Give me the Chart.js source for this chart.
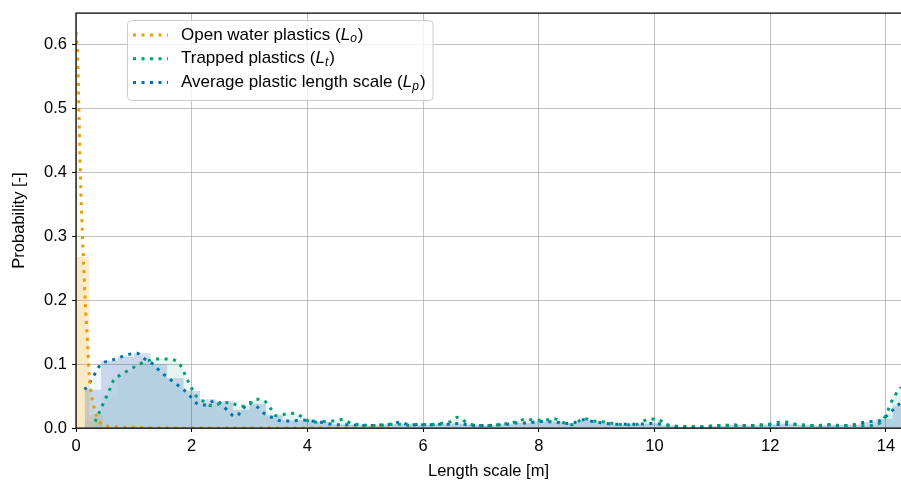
<!DOCTYPE html>
<html><head><meta charset="utf-8">
<script src="https://cdn.jsdelivr.net/npm/chart.js@4/dist/chart.umd.min.js"></script>
<style>html,body{margin:0;padding:0;background:#fff;overflow:hidden}</style>
</head><body>
<canvas id="c" width="901" height="481"></canvas>
<script>
// ---------- data ----------
const seriesNames = ['Open water plastics', 'Trapped plastics', 'Average plastic length scale'];
const seriesSubs = ['o', 't', 'p'];
const xTickValues = [0, 2, 4, 6, 8, 10, 12, 14];
const yTickValues = [0, 0.1, 0.2, 0.3, 0.4, 0.5, 0.6];
const xAxisTitle = 'Length scale [m]';
const yAxisTitle = 'Probability [-]';

// density curves (x, y)
const openX = [0, 0.03, 0.05, 0.07, 0.1, 0.14, 0.17, 0.2, 0.23, 0.27, 0.31, 0.36, 0.45, 0.64, 1.0, 2.0, 3.0, 4.0, 5.0, 5.5];
const openY = [0.62, 0.58, 0.5, 0.42, 0.33, 0.24, 0.18, 0.135, 0.08, 0.05, 0.033, 0.018, 0.006, 0.002, 0.001, 0, 0, 0, 0, 0];

const trappedX = [0.33,0.37,0.44,0.51,0.58,0.65,0.77,0.92,1.08,1.23,1.39,1.57,1.73,1.84,1.9,1.98,2.06,2.2,2.35,2.52,2.67,2.83,2.98,3.12,3.25,3.36,3.47,3.63,3.79,3.95,4.1,4.26,4.44,4.61,4.76,4.94,5.1,5.26,5.44,5.6,5.77,5.95,6.1,6.28,6.45,6.6,6.76,6.93,7.12,7.3,7.46,7.62,7.78,7.95,8.1,8.24,8.44,8.6,8.77,8.94,9.1,9.3,9.5,9.7,9.91,10.05,10.2,10.35,10.5,10.7,10.85,11.0,11.2,11.35,11.5,11.7,11.9,12.05,12.22,12.37,12.5,12.7,12.85,13.0,13.2,13.37,13.55,13.75,13.9,14.0,14.07,14.15,14.26];
const trappedY = [0.01,0.018,0.032,0.046,0.06,0.075,0.083,0.091,0.099,0.105,0.108,0.108,0.105,0.093,0.08,0.066,0.052,0.042,0.035,0.039,0.04,0.034,0.036,0.045,0.043,0.031,0.019,0.022,0.023,0.014,0.009,0.01,0.011,0.0135,0.007,0.005,0.004,0.004,0.006,0.006,0.004,0.006,0.005,0.007,0.009,0.017,0.008,0.004,0.004,0.005,0.007,0.01,0.014,0.012,0.012,0.015,0.008,0.005,0.015,0.011,0.01,0.007,0.005,0.006,0.014,0.014,0.005,0.003,0.002,0.002,0.002,0.003,0.004,0.004,0.004,0.004,0.005,0.007,0.01,0.007,0.005,0.004,0.004,0.005,0.004,0.004,0.004,0.004,0.008,0.02,0.036,0.05,0.064];

const averageX = [0.15,0.25,0.34,0.43,0.58,0.74,0.9,1.05,1.19,1.33,1.46,1.6,1.73,1.86,1.98,2.1,2.24,2.4,2.53,2.64,2.76,2.87,3.0,3.12,3.25,3.4,3.56,3.73,3.9,4.06,4.25,4.4,4.57,4.75,4.9,5.1,5.3,5.45,5.6,5.77,5.95,6.1,6.3,6.45,6.6,6.76,6.93,7.12,7.3,7.46,7.62,7.8,7.99,8.14,8.3,8.45,8.6,8.77,8.94,9.1,9.3,9.5,9.7,9.95,10.2,10.35,10.5,10.7,10.85,11.0,11.2,11.35,11.5,11.7,11.9,12.05,12.22,12.37,12.5,12.7,12.85,13.0,13.2,13.37,13.52,13.71,13.88,14.0,14.13,14.26];
const averageY = [0.06,0.073,0.087,0.1,0.105,0.11,0.115,0.117,0.108,0.1,0.088,0.078,0.069,0.06,0.049,0.038,0.036,0.043,0.036,0.025,0.018,0.028,0.04,0.034,0.023,0.016,0.011,0.011,0.0125,0.011,0.009,0.006,0.005,0.005,0.004,0.004,0.005,0.006,0.009,0.005,0.005,0.005,0.006,0.006,0.007,0.005,0.004,0.004,0.005,0.006,0.008,0.008,0.01,0.01,0.009,0.007,0.008,0.013,0.01,0.008,0.006,0.006,0.006,0.007,0.005,0.003,0.002,0.002,0.002,0.003,0.004,0.005,0.004,0.004,0.005,0.005,0.006,0.006,0.005,0.004,0.004,0.005,0.004,0.004,0.007,0.01,0.011,0.018,0.029,0.04];

// histograms (bin edges, bin heights)
const openEdges = [0, 0.23, 0.46];
const openHist = [0.268, 0.02];
const histEdges = [0.15,0.435,0.72,1.005,1.29,1.575,1.86,2.145,2.43,2.715,3.0,3.285,3.57,3.855,4.14,4.425,4.71,4.995,5.28,5.565,5.85,6.135,6.42,6.705,6.99,7.275,7.56,7.845,8.13,8.415,8.7,8.985,9.27,9.555,9.84,10.125,10.41,10.695,10.98,11.265,11.55,11.835,12.12,12.405,12.69,12.975,13.26,13.545,13.83,14.115,14.4];
const averageHist = [0.06,0.105,0.112,0.117,0.1,0.078,0.058,0.045,0.042,0.028,0.038,0.02,0.012,0.012,0.009,0.006,0.005,0.004,0.006,0.007,0.005,0.006,0.007,0.005,0.004,0.006,0.008,0.01,0.01,0.008,0.012,0.009,0.006,0.006,0.007,0.004,0.002,0.002,0.003,0.005,0.004,0.005,0.006,0.005,0.004,0.005,0.005,0.009,0.014,0.035];
const trappedHist = [0.01,0.05,0.088,0.1,0.108,0.105,0.062,0.04,0.04,0.036,0.044,0.024,0.022,0.012,0.01,0.012,0.006,0.004,0.005,0.005,0.005,0.007,0.014,0.006,0.004,0.006,0.011,0.012,0.014,0.006,0.013,0.01,0.006,0.006,0.014,0.004,0.002,0.002,0.003,0.004,0.004,0.006,0.009,0.005,0.004,0.005,0.004,0.004,0.02,0.055];

// ---------- helpers ----------
const pts = (xs, ys) => xs.map((x, i) => ({x, y: ys[i]}));
const histPts = (edges, h) => {
  const p = h.map((v, i) => ({x: edges[i], y: v}));
  p.push({x: edges[edges.length - 1], y: h[h.length - 1]});
  return p;
};
const ORANGE = '#E69F00', GREEN = '#009E73', BLUE = '#0072B2';
const FONT = '"Liberation Sans", Arial, sans-serif';
const FS = 16.5, LFS = 17;
const DASH = [3, 5.5];

const histDs = (data, color, order) => ({
  type: 'line', data, stepped: true, fill: 'origin', borderWidth: 0,
  borderColor: 'rgba(0,0,0,0)', backgroundColor: color, pointRadius: 0, order
});
const kdeDs = (data, color, fillColor, order) => ({
  type: 'line', data, fill: 'origin', borderWidth: 3, borderDash: DASH,
  borderCapStyle: 'butt', borderColor: color, backgroundColor: fillColor,
  pointRadius: 0, cubicInterpolationMode: 'monotone', order
});

const spinePlugin = {
  id: 'spines',
  afterDatasetsDraw(chart) {
    const {ctx, chartArea: a} = chart;
    ctx.save();
    ctx.strokeStyle = '#000'; ctx.lineWidth = 1.25;
    ctx.beginPath();
    ctx.moveTo(a.left, a.bottom); ctx.lineTo(a.left, a.top); ctx.lineTo(a.right + 2, a.top);
    ctx.moveTo(a.left, a.bottom); ctx.lineTo(a.right + 2, a.bottom);
    ctx.stroke();
    // legend
    const colors = [ORANGE, GREEN, BLUE];
    const x0 = a.left + 51, y0 = a.top + 7;
    const base = LFS + 'px ' + FONT, ital = 'italic ' + LFS + 'px ' + FONT, sub = 'italic 12px ' + FONT;
    const widths = seriesNames.map((n, i) => {
      ctx.font = base; let w = ctx.measureText(n + ' (').width + ctx.measureText(')').width;
      ctx.font = ital; w += ctx.measureText('L').width;
      ctx.font = sub; w += ctx.measureText(seriesSubs[i]).width + 1;
      return w;
    });
    const bw = 54 + Math.max(...widths) + 7, bh = 80;
    ctx.beginPath();
    ctx.roundRect(x0 + 0.5, y0 + 0.5, bw, bh, 4);
    ctx.fillStyle = 'rgba(255,255,255,0.8)'; ctx.fill();
    ctx.strokeStyle = '#cccccc'; ctx.lineWidth = 1; ctx.stroke();
    seriesNames.forEach((n, i) => {
      const yc = y0 + 15 + i * 23.7;
      ctx.save();
      ctx.strokeStyle = colors[i]; ctx.lineWidth = 3; ctx.setLineDash(DASH); ctx.lineCap = 'butt';
      ctx.beginPath(); ctx.moveTo(x0 + 6, yc); ctx.lineTo(x0 + 41, yc); ctx.stroke();
      ctx.restore();
      ctx.fillStyle = '#000'; ctx.textBaseline = 'middle'; ctx.textAlign = 'left';
      let tx = x0 + 54;
      ctx.font = base; ctx.fillText(n + ' (', tx, yc); tx += ctx.measureText(n + ' (').width;
      ctx.font = ital; ctx.fillText('L', tx, yc); tx += ctx.measureText('L').width;
      ctx.font = sub; ctx.fillText(seriesSubs[i], tx, yc + 4); tx += ctx.measureText(seriesSubs[i]).width + 1;
      ctx.font = base; ctx.fillText(')', tx, yc);
    });
    ctx.restore();
  }
};

new Chart(document.getElementById('c'), {
  type: 'line',
  data: {
    datasets: [
      kdeDs(pts(openX, openY), ORANGE, 'rgba(230,159,0,0.06)', 1),
      kdeDs(pts(trappedX, trappedY), GREEN, 'rgba(0,158,115,0.06)', 2),
      kdeDs(pts(averageX, averageY), BLUE, 'rgba(0,114,178,0.05)', 3),
      histDs(histPts(histEdges, averageHist), 'rgba(40,80,175,0.2)', 4),
      histDs(histPts(histEdges, trappedHist), 'rgba(0,158,115,0.05)', 5),
      histDs(histPts(openEdges, openHist), 'rgba(230,159,0,0.18)', 6)
    ]
  },
  options: {
    responsive: false, animation: false, devicePixelRatio: 1,
    layout: {padding: {top: 13, right: 0, bottom: 0, left: 0}},
    plugins: {legend: {display: false}, tooltip: {enabled: false}},
    scales: {
      x: {
        type: 'linear', min: 0, max: 14.26,
        afterBuildTicks: s => { s.ticks = xTickValues.map(v => ({value: v})); },
        afterFit: s => { s.height = 53; s.paddingLeft = 0; s.paddingRight = 0; },
        ticks: {color: '#000', font: {family: FONT, size: FS}, padding: 5, maxRotation: 0},
        grid: {color: '#b0b0b0', lineWidth: 0.8, drawTicks: true, tickLength: 4, tickColor: '#000', tickWidth: 1},
        border: {display: false},
        title: {display: true, text: xAxisTitle, color: '#000', font: {family: FONT, size: FS}, padding: {top: 0, bottom: 0}}
      },
      y: {
        type: 'linear', min: 0, max: 0.65,
        afterBuildTicks: s => { s.ticks = yTickValues.map(v => ({value: v})); },
        afterFit: s => { s.width = 76; s.paddingTop = 0; s.paddingBottom = 0; },
        ticks: {color: '#000', font: {family: FONT, size: FS}, padding: 5, callback: v => v.toFixed(1)},
        grid: {color: '#b0b0b0', lineWidth: 0.8, drawTicks: true, tickLength: 4, tickColor: '#000', tickWidth: 1},
        border: {display: false},
        title: {display: true, text: yAxisTitle, color: '#000', font: {family: FONT, size: FS}, padding: {top: 10, bottom: 0}}
      }
    }
  },
  plugins: [spinePlugin]
});
</script>
</body></html>
